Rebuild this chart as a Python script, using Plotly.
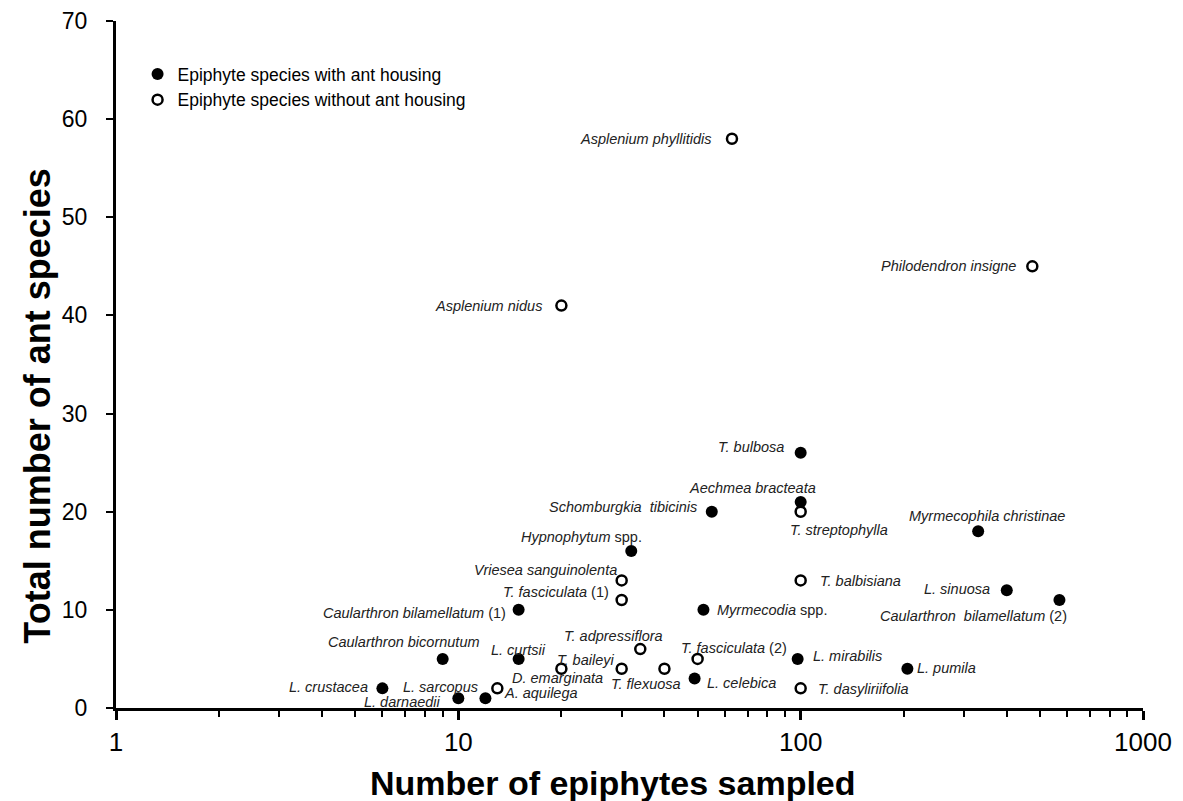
import math
import plotly.graph_objects as go

# ---------------- data ----------------
# Epiphyte species with ant housing (filled markers)
with_names = ["<i>T. bulbosa</i>", "<i>Aechmea bracteata</i>", "<i>Schomburgkia  tibicinis</i>",
              "<i>Hypnophytum</i> spp.", "<i>Caularthron bilamellatum</i> (1)", "<i>Myrmecodia</i> spp.",
              "<i>Myrmecophila christinae</i>", "<i>L. sinuosa</i>", "<i>Caularthron  bilamellatum</i> (2)",
              "<i>Caularthron bicornutum</i>", "<i>L. curtsii</i>", "<i>L. mirabilis</i>", "<i>L. pumila</i>",
              "<i>L. celebica</i>", "<i>L. crustacea</i>", "<i>L. darnaedii</i>", "<i>L. sarcopus</i>"]
with_x = [100, 100, 55, 32, 15, 52, 330, 400, 570, 9, 15, 98, 205, 49, 6, 10, 12]
with_y = [26, 21, 20, 16, 10, 10, 18, 12, 11, 5, 5, 5, 4, 3, 2, 1, 1]

# Epiphyte species without ant housing (open markers)
without_names = ["<i>Asplenium phyllitidis</i>", "<i>Philodendron insigne</i>", "<i>Asplenium nidus</i>",
                 "<i>T. streptophylla</i>", "<i>T. balbisiana</i>", "<i>Vriesea sanguinolenta</i>",
                 "<i>T. fasciculata</i> (1)", "<i>T. adpressiflora</i>", "<i>T. fasciculata</i> (2)",
                 "<i>T. baileyi</i>", "<i>D. emarginata</i>", "<i>T. flexuosa</i>", "<i>A. aquilega</i>",
                 "<i>T. dasyliriifolia</i>"]
without_x = [63, 475, 20, 100, 100, 30, 30, 34, 50, 30, 20, 40, 13, 100]
without_y = [58, 45, 41, 20, 13, 13, 11, 6, 5, 4, 4, 4, 2, 2]

x_major_ticks = [1, 10, 100, 1000]
x_minor_ticks = [2, 3, 4, 5, 6, 7, 8, 9, 20, 30, 40, 50, 60, 70, 80, 90,
                 200, 300, 400, 500, 600, 700, 800, 900]
y_ticks = [0, 10, 20, 30, 40, 50, 60, 70]

x_title = "Number of epiphytes sampled"
y_title = "Total number of ant species"

# label placement (anchor, x offset px, y offset px) -- styling only
with_label_pos = [("right", -15, 6), ("right", 17, 14), ("right", -13, 5),
                  ("right", 13, 14), ("right", -11, -3), ("left", 12, 0),
                  ("center", 9, 15), ("right", -15, 1), ("right", 10, -16),
                  ("right", 39, 17), ("center", 0, 9), ("left", 13, 3), ("left", 8, 1),
                  ("left", 10, -4), ("right", -12, 1), ("right", -15, -4), ("right", -5, 11)]
without_label_pos = [("right", -18, 0), ("right", -14, 0), ("right", -17, 0),
                     ("left", -13, -18), ("left", 17, -1), ("right", -3, 10),
                     ("right", -11, 8), ("right", 25, 13), ("left", -19, 11),
                     ("right", -6, 9), ("left", -51, -9), ("right", 19, -15), ("left", 5, -5),
                     ("left", 15, -1)]

FONT = "Liberation Sans, Arial, Helvetica, sans-serif"

fig = go.Figure()
fig.add_trace(go.Scatter(
    x=with_x, y=with_y, mode="markers", name="Epiphyte species with ant housing",
    marker=dict(symbol="circle", size=12, color="black", line=dict(width=0)),
    text=with_names, hoverinfo="text+x+y"))
fig.add_trace(go.Scatter(
    x=without_x, y=without_y, mode="markers", name="Epiphyte species without ant housing",
    marker=dict(symbol="circle", size=10, color="white", line=dict(width=2.5, color="black")),
    text=without_names, hoverinfo="text+x+y"))

annotations = []
for names, xs, ys, pos in [(with_names, with_x, with_y, with_label_pos),
                           (without_names, without_x, without_y, without_label_pos)]:
    for n, xv, yv, (anc, dx, dy) in zip(names, xs, ys, pos):
        annotations.append(dict(
            x=math.log10(xv), y=yv, xref="x", yref="y", text=n, showarrow=False,
            xanchor=anc, yanchor="middle", xshift=dx, yshift=dy,
            font=dict(family=FONT, size=14.5, color="#222222")))

# axis titles (placed as in the reference, slightly off-centre)
annotations.append(dict(
    x=0.4835, y=-0.109, xref="paper", yref="paper", text="<b>" + x_title + "</b>",
    showarrow=False, xanchor="center", yanchor="middle",
    font=dict(family=FONT, size=34, color="black")))
annotations.append(dict(
    x=-0.076, y=0.44, xref="paper", yref="paper", text="<b>" + y_title + "</b>",
    showarrow=False, xanchor="center", yanchor="middle", textangle=-90,
    font=dict(family=FONT, size=36, color="black")))

fig.update_layout(
    width=1183, height=801,
    margin=dict(l=116, r=40, t=21, b=93),
    paper_bgcolor="white", plot_bgcolor="white",
    font=dict(family=FONT, color="black"),
    showlegend=True,
    legend=dict(x=0.021, y=0.949, xanchor="left", yanchor="top",
                font=dict(family=FONT, size=17.5, color="black"),
                bgcolor="rgba(0,0,0,0)", itemwidth=30, tracegroupgap=0),
    annotations=annotations,
)

fig.update_xaxes(
    type="log", range=[0, 3],
    tickmode="array", tickvals=x_major_ticks, ticktext=[str(v) for v in x_major_ticks],
    ticks="outside", ticklen=9, tickwidth=2.5, tickcolor="black",
    minor=dict(tickmode="array", tickvals=x_minor_ticks, ticks="outside",
               ticklen=6, tickwidth=2, tickcolor="black", showgrid=False),
    showline=True, linewidth=3, linecolor="black", mirror=False,
    showgrid=False, zeroline=False,
    tickfont=dict(family=FONT, size=26, color="black"),
    ticklabelstandoff=0,
    automargin=False,
)
fig.update_yaxes(
    range=[0, 70], tickmode="array", tickvals=y_ticks,
    ticks="outside", ticklen=7, tickwidth=2, tickcolor="black",
    showline=True, linewidth=3, linecolor="black", mirror=False,
    showgrid=False, zeroline=False,
    tickfont=dict(family=FONT, size=23, color="black"),
    ticklabelstandoff=14,
    automargin=False,
)

fig.write_html("out.html", config={"displayModeBar": False},
               post_script="document.body.style.margin='0px';")
